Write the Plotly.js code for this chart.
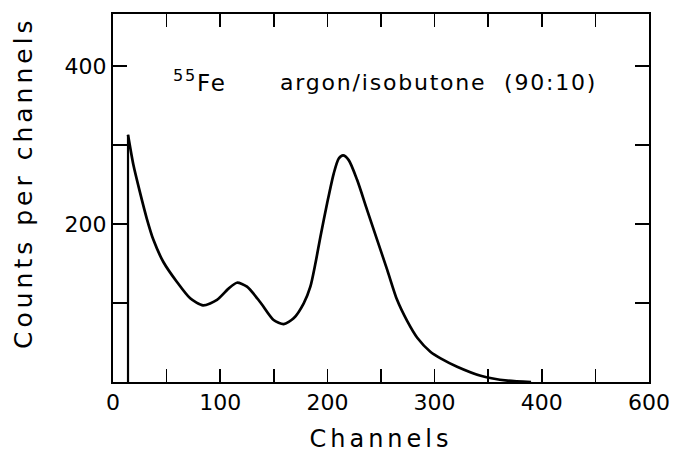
<!DOCTYPE html>
<html>
<head>
<meta charset="utf-8">
<script src="https://cdn.plot.ly/plotly-3.0.1.min.js"></script>
<style>
  html, body { margin: 0; padding: 0; background: #fff; }
  #chart { width: 683px; height: 455px; }
  .xtitle { letter-spacing: 4px; }
  .annotation-text { letter-spacing: 1.8px; }
  .ylabel-rot .annotation-text { letter-spacing: 4px; }
</style>
</head>
<body>
<div id="chart"></div>
<script>
// Spectrum (channel, counts per channel)
const edgeChannels = [14, 14];
const edgeCounts = [0, 313];

const channels = [14, 19, 25, 31.5, 37.7, 47, 59.5, 72, 84, 97, 108, 115.6, 125, 137.4,
  149.8, 159.2, 168.5, 177.9, 184.1, 188.8, 193.5, 199.7, 205.9, 210.6, 214.6, 219.9,
  227.7, 237, 246.4, 255.8, 265, 274.5, 283.8, 296.3, 305.6, 321, 343, 368, 390];
const counts = [313, 275, 241, 207, 180, 152, 127, 106, 97, 104, 118.6, 125.7, 120.7, 101,
  78.5, 73.4, 80.6, 99.6, 120.7, 150, 184, 226, 264, 283, 287, 281,
  256, 218, 180, 142, 104, 77, 56, 38, 30, 19.4, 8, 1.7, 0];

const xTickVals = [0, 100, 200, 300, 400, 500];
const xTickText = ["0", "100", "200", "300", "400", "600"];
const yTickVals = [200, 400];
const yTickText = ["200", "400"];

const FONT = "DejaVu Sans";

const traces = [
  { x: edgeChannels, y: edgeCounts, type: "scatter", mode: "lines",
    line: { color: "#000", width: 2.2 }, hoverinfo: "skip", showlegend: false },
  { x: channels, y: counts, type: "scatter", mode: "lines",
    line: { color: "#000", width: 2.7, shape: "spline", smoothing: 0.7 },
    showlegend: false }
];

const layout = {
  width: 683, height: 455,
  margin: { l: 113, r: 34, t: 14, b: 73 },
  paper_bgcolor: "#fff", plot_bgcolor: "#fff",
  font: { family: FONT, color: "#000", size: 22 },
  showlegend: false,
  xaxis: {
    range: [0, 500], showgrid: false, zeroline: false,
    showline: true, linecolor: "#000", linewidth: 2, mirror: "ticks",
    ticks: "inside", ticklen: 13, tickwidth: 1.6, tickcolor: "#000",
    tickmode: "array", tickvals: xTickVals, ticktext: xTickText,
    minor: { dtick: 50, ticks: "inside", ticklen: 13, tickwidth: 1.6, tickcolor: "#000", showgrid: false },
    tickfont: { family: FONT, size: 22, color: "#000" },
    title: { text: "Channels", font: { family: FONT, size: 24, color: "#000" }, standoff: 16 }
  },
  yaxis: {
    range: [0, 466], showgrid: false, zeroline: false,
    showline: true, linecolor: "#000", linewidth: 2, mirror: "ticks",
    ticks: "inside", ticklen: 14, tickwidth: 1.6, tickcolor: "#000",
    tickmode: "array", tickvals: yTickVals, ticktext: yTickText,
    minor: { dtick: 100, ticks: "inside", ticklen: 14, tickwidth: 1.6, tickcolor: "#000", showgrid: false },
    tickfont: { family: FONT, size: 22, color: "#000" }
  },
  annotations: [
    { x: 54, y: 381, xref: "x", yref: "y", xanchor: "left", yanchor: "middle",
      text: "<sup>55</sup>Fe", showarrow: false,
      font: { family: FONT, size: 23, color: "#000" } },
    { x: 154, y: 379, xref: "x", yref: "y", xanchor: "left", yanchor: "middle",
      text: "argon/isobutone  (90:10)", showarrow: false,
      font: { family: FONT, size: 22, color: "#000" } },
    { x: -0.168, y: 0.543, xref: "paper", yref: "paper", xanchor: "center", yanchor: "middle",
      text: "Counts per channels", textangle: -90, showarrow: false, name: "ytitle",
      font: { family: FONT, size: 25, color: "#000" } }
  ]
};

Plotly.newPlot("chart", traces, layout, { displayModeBar: false, staticPlot: true }).then(function () {
  // widen the letter spacing of the rotated axis label like the reference lettering
  const groups = document.querySelectorAll(".annotation");
  const last = groups[groups.length - 1];
  if (last) last.classList.add("ylabel-rot");
});
</script>
</body>
</html>
